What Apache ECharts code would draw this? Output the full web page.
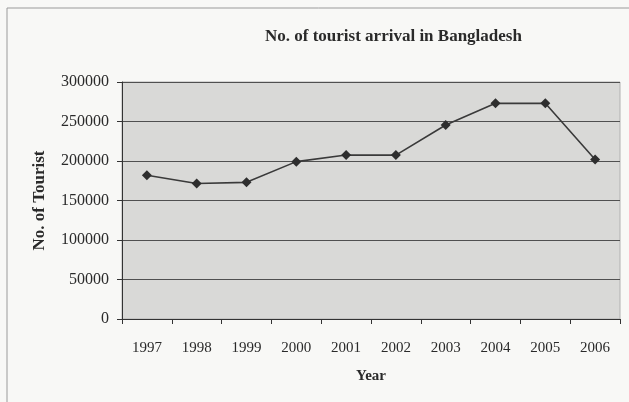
<!DOCTYPE html>
<html>
<head>
<meta charset="utf-8">
<script src="https://cdn.jsdelivr.net/npm/echarts@6/dist/echarts.min.js"></script>
<style>html,body{margin:0;padding:0;background:#f8f8f6;}#c{width:629px;height:402px;}</style>
</head>
<body>
<div id="c"></div>
<script>
const years = ['1997','1998','1999','2000','2001','2002','2003','2004','2005','2006'];
const tourists = [182000, 171500, 173000, 199200, 207500, 207500, 245500, 273000, 273000, 202000];
const yTicks = { min: 0, max: 300000, interval: 50000 };

const chart = echarts.init(document.getElementById('c'));
const serif = '"Liberation Serif", "DejaVu Serif", serif';
chart.setOption({
  backgroundColor: '#f8f8f6',
  animation: false,
  graphic: [{
    type: 'rect', shape: { x: 7, y: 8, width: 700, height: 500 },
    style: { fill: 'none', stroke: '#9a9a9a', lineWidth: 1 }, silent: true
  }],
  title: {
    text: 'No. of tourist arrival in Bangladesh',
    left: 260, top: 23,
    textStyle: { fontFamily: serif, fontWeight: 'bold', fontSize: 17, color: '#2a2a2a' }
  },
  grid: {
    left: 122, right: 9, top: 82, bottom: 83, show: true,
    backgroundColor: '#d9d9d7', borderColor: '#b0b0b0', borderWidth: 1
  },
  xAxis: {
    type: 'category', data: years, boundaryGap: true,
    name: 'Year', nameLocation: 'middle', nameGap: 50,
    nameTextStyle: { fontFamily: serif, fontWeight: 'bold', fontSize: 15, color: '#2a2a2a' },
    axisLine: { lineStyle: { color: '#333', width: 1 } },
    axisTick: { show: true, alignWithLabel: false, length: 5, lineStyle: { color: '#333' } },
    axisLabel: { fontFamily: serif, fontSize: 15, color: '#2a2a2a', margin: 22 },
    splitLine: { show: false }
  },
  yAxis: {
    type: 'value', min: yTicks.min, max: yTicks.max, interval: yTicks.interval,
    name: 'No. of Tourist', nameLocation: 'middle', nameGap: 74, nameRotate: 90,
    nameTextStyle: { fontFamily: serif, fontWeight: 'bold', fontSize: 17, color: '#2a2a2a' },
    axisLine: { show: true, lineStyle: { color: '#333', width: 1 } },
    axisTick: { show: true, length: 5, lineStyle: { color: '#333' } },
    axisLabel: { fontFamily: serif, fontSize: 16, color: '#2a2a2a', margin: 13,
      formatter: v => String(v) },
    splitLine: { show: true, lineStyle: { color: '#505050', width: 1 } }
  },
  series: [{
    type: 'line', data: tourists,
    symbol: 'diamond', symbolSize: 10,
    itemStyle: { color: '#2e2e2e' },
    lineStyle: { color: '#3a3a3a', width: 1.6 }
  }]
});
</script>
</body>
</html>
